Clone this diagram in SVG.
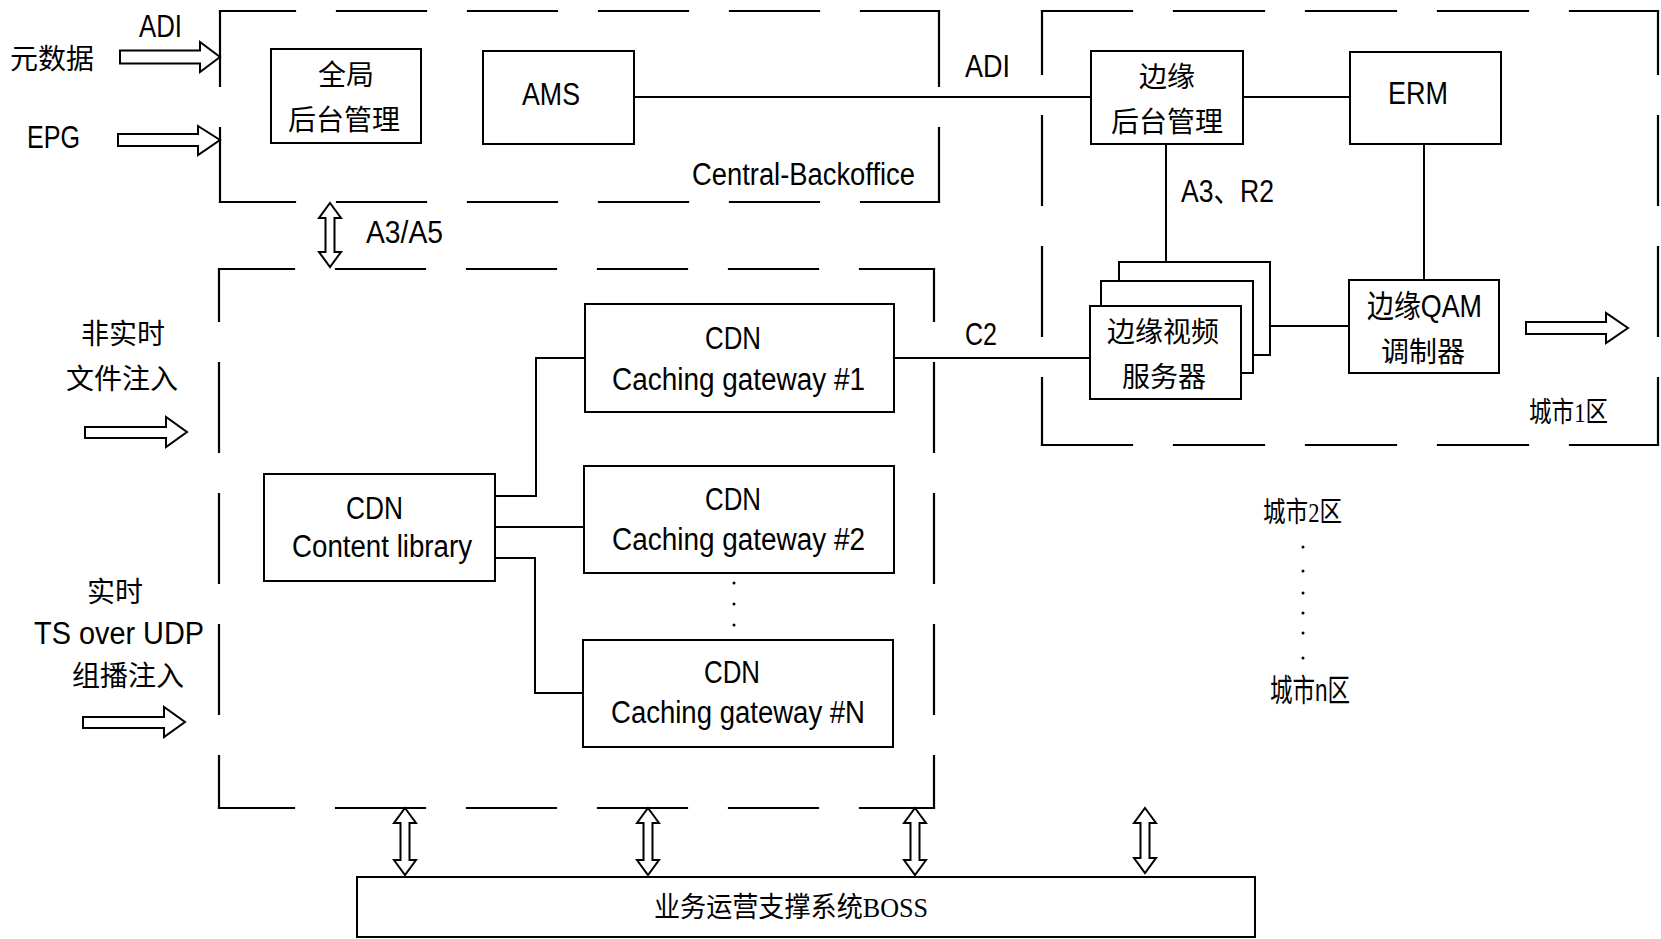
<svg xmlns="http://www.w3.org/2000/svg" width="1661" height="939" viewBox="0 0 1661 939">
<style>
.bg{fill:#fff}
.box{fill:#fff;stroke:#000;stroke-width:2}
.dash{stroke:#000;stroke-width:2.2;fill:none;stroke-linecap:square}
.d1{stroke-dasharray:89 42;stroke-dashoffset:14}
.d2{stroke-dasharray:89 42;stroke-dashoffset:37}
.d3{stroke-dasharray:90 42;stroke-dashoffset:0}
.d4{stroke-dasharray:89 42;stroke-dashoffset:26}
.ln{stroke:#000;stroke-width:2;fill:none}
.arr{fill:#fff;stroke:#000;stroke-width:2;stroke-linejoin:miter}
.t{font-family:'Liberation Sans','Noto Sans CJK SC',sans-serif;font-size:31px;fill:#000}
.k{font-family:'Noto Sans CJK SC',sans-serif;font-size:28px;fill:#000}
.ks{font-family:'Liberation Serif','Noto Sans CJK SC',serif;font-size:28px;fill:#000}
.c{text-anchor:middle}
</style>
<rect class="bg" x="0" y="0" width="1661" height="939"/>

<g id="regions">
  <g id="central-backoffice">
    <line class="dash d1" x1="220" y1="11" x2="939" y2="11"/>
    <line class="dash d1" x1="220" y1="202" x2="939" y2="202"/>
    <line class="dash d1" x1="220" y1="11" x2="220" y2="202"/>
    <line class="dash d1" x1="939" y1="11" x2="939" y2="202"/>
    <text class="t" x="692" y="185" textLength="223" lengthAdjust="spacingAndGlyphs">Central-Backoffice</text>
  </g>
  <g id="cdn-region">
    <line class="dash d1" x1="219" y1="269" x2="934" y2="269"/>
    <line class="dash d1" x1="219" y1="808" x2="934" y2="808"/>
    <line class="dash d2" x1="219" y1="269" x2="219" y2="808"/>
    <line class="dash d2" x1="934" y1="269" x2="934" y2="808"/>
  </g>
  <g id="city1">
    <line class="dash d3" x1="1042" y1="11" x2="1658" y2="11"/>
    <line class="dash d3" x1="1042" y1="445" x2="1658" y2="445"/>
    <line class="dash d4" x1="1042" y1="11" x2="1042" y2="445"/>
    <line class="dash d4" x1="1658" y1="11" x2="1658" y2="445"/>
    <text class="ks" x="1529" y="422" font-size="26" textLength="79" lengthAdjust="spacingAndGlyphs">城市1区</text>
  </g>
</g>

<g id="connectors">
  <polyline class="ln" points="634,97 1091,97"/>
  <polyline class="ln" points="1243,97 1350,97"/>
  <polyline class="ln" points="1166,144 1166,262"/>
  <polyline class="ln" points="1424,144 1424,280"/>
  <polyline class="ln" points="1270,326 1349,326"/>
  <polyline class="ln" points="894,358 1090,358"/>
  <polyline class="ln" points="495,496 536,496 536,358 585,358"/>
  <polyline class="ln" points="495,527 584,527"/>
  <polyline class="ln" points="495,558 535,558 535,693 583,693"/>
  <polygon class="arr" points="120,50.5 200,50.5 200,42 220,57 200,72 200,63.5 120,63.5"/>
  <polygon class="arr" points="118,134 198,134 198,126 220,140 198,155 198,146 118,146"/>
  <polygon class="arr" points="85,427 166,427 166,417 187,432 166,447 166,438 85,438"/>
  <polygon class="arr" points="83,717 164,717 164,707 185,722 164,737 164,728 83,728"/>
  <polygon class="arr" points="1526,322 1606,322 1606,313 1628,328 1606,343 1606,334 1526,334"/>
  <polygon class="arr" points="330,203 341,218 334.5,218 334.5,252 341,252 330,267 319,252 325.5,252 325.5,218 319,218"/>
  <polygon class="arr" points="405,808 416,823 409.5,823 409.5,860 416,860 405,875 394,860 400.5,860 400.5,823 394,823"/>
  <polygon class="arr" points="648,808 659,823 652.5,823 652.5,860 659,860 648,875 637,860 643.5,860 643.5,823 637,823"/>
  <polygon class="arr" points="915,808 926,823 919.5,823 919.5,860 926,860 915,875 904,860 910.5,860 910.5,823 904,823"/>
  <polygon class="arr" points="1145,808 1156,823 1149.5,823 1149.5,858 1156,858 1145,873 1134,858 1140.5,858 1140.5,823 1134,823"/>
</g>

<g id="labels">
  <text class="t" x="139" y="37" textLength="43" lengthAdjust="spacingAndGlyphs">ADI</text>
  <text class="k c" x="52" y="69">元数据</text>
  <text class="t" x="27" y="148" textLength="53" lengthAdjust="spacingAndGlyphs">EPG</text>
  <text class="t" x="965" y="77" textLength="45" lengthAdjust="spacingAndGlyphs">ADI</text>
  <text class="t" x="366" y="243" font-size="29" textLength="77" lengthAdjust="spacingAndGlyphs">A3/A5</text>
  <text class="t" x="1181" y="202" font-size="29" textLength="93" lengthAdjust="spacingAndGlyphs">A3、R2</text>
  <text class="t" x="965" y="345" font-size="29" textLength="32" lengthAdjust="spacingAndGlyphs">C2</text>
  <text class="k c" x="123" y="344">非实时</text>
  <text class="k c" x="122" y="389">文件注入</text>
  <text class="k c" x="115" y="602">实时</text>
  <text class="t" x="34" y="644" textLength="170" lengthAdjust="spacingAndGlyphs">TS over UDP</text>
  <text class="k c" x="128" y="686">组播注入</text>
  <text class="ks" x="1263" y="522" font-size="26" textLength="79" lengthAdjust="spacingAndGlyphs">城市2区</text>
  <g id="city-dots">
    <circle cx="1303" cy="547" r="1.5"/>
    <circle cx="1303" cy="571" r="1.5"/>
    <circle cx="1303" cy="593" r="1.5"/>
    <circle cx="1303" cy="613" r="1.5"/>
    <circle cx="1303" cy="633" r="1.5"/>
    <circle cx="1303" cy="658" r="1.5"/>
  </g>
  <text class="t" x="1270" y="701" font-size="26" textLength="80" lengthAdjust="spacingAndGlyphs">城市n区</text>
  <g id="gw-dots">
    <circle cx="734" cy="583" r="1.5"/>
    <circle cx="734" cy="604" r="1.5"/>
    <circle cx="734" cy="625" r="1.5"/>
  </g>
</g>

<g id="global-backoffice">
  <rect class="box" x="271" y="49" width="150" height="94"/>
  <text class="k c" x="346" y="85">全局</text>
  <text class="k c" x="344" y="130">后台管理</text>
</g>
<g id="ams">
  <rect class="box" x="483" y="51" width="151" height="93"/>
  <text class="t" x="522" y="105" font-size="33" textLength="58" lengthAdjust="spacingAndGlyphs">AMS</text>
</g>
<g id="edge-backoffice">
  <rect class="box" x="1091" y="51" width="152" height="93"/>
  <text class="k c" x="1167" y="87">边缘</text>
  <text class="k c" x="1167" y="132">后台管理</text>
</g>
<g id="erm">
  <rect class="box" x="1350" y="52" width="151" height="92"/>
  <text class="t" x="1388" y="104" font-size="33" textLength="60" lengthAdjust="spacingAndGlyphs">ERM</text>
</g>
<g id="edge-video-server">
  <rect class="box" x="1119" y="262" width="151" height="93"/>
  <rect class="box" x="1101" y="281" width="152" height="92"/>
  <rect class="box" x="1090" y="306" width="151" height="93"/>
  <text class="k c" x="1163" y="342">边缘视频</text>
  <text class="k c" x="1164" y="387">服务器</text>
</g>
<g id="edge-qam">
  <rect class="box" x="1349" y="280" width="150" height="93"/>
  <text class="t" x="1367" y="317" font-size="28" textLength="115" lengthAdjust="spacingAndGlyphs">边缘QAM</text>
  <text class="k c" x="1423" y="362">调制器</text>
</g>
<g id="cdn-content-library">
  <rect class="box" x="264" y="474" width="231" height="107"/>
  <text class="t" x="346" y="519" textLength="57" lengthAdjust="spacingAndGlyphs">CDN</text>
  <text class="t" x="292" y="557" textLength="180" lengthAdjust="spacingAndGlyphs">Content  library</text>
</g>
<g id="gateway-1">
  <rect class="box" x="585" y="304" width="309" height="108"/>
  <text class="t" x="705" y="349" textLength="56" lengthAdjust="spacingAndGlyphs">CDN</text>
  <text class="t" x="612" y="390" textLength="253" lengthAdjust="spacingAndGlyphs">Caching  gateway  #1</text>
</g>
<g id="gateway-2">
  <rect class="box" x="584" y="466" width="310" height="107"/>
  <text class="t" x="705" y="510" textLength="56" lengthAdjust="spacingAndGlyphs">CDN</text>
  <text class="t" x="612" y="550" textLength="253" lengthAdjust="spacingAndGlyphs">Caching  gateway  #2</text>
</g>
<g id="gateway-n">
  <rect class="box" x="583" y="640" width="310" height="107"/>
  <text class="t" x="704" y="683" textLength="56" lengthAdjust="spacingAndGlyphs">CDN</text>
  <text class="t" x="611" y="723" textLength="254" lengthAdjust="spacingAndGlyphs">Caching  gateway  #N</text>
</g>
<g id="boss">
  <rect class="box" x="357" y="877" width="898" height="60"/>
  <text class="ks" x="654" y="917" textLength="274" lengthAdjust="spacingAndGlyphs">业务运营支撑系统BOSS</text>
</g>
</svg>
